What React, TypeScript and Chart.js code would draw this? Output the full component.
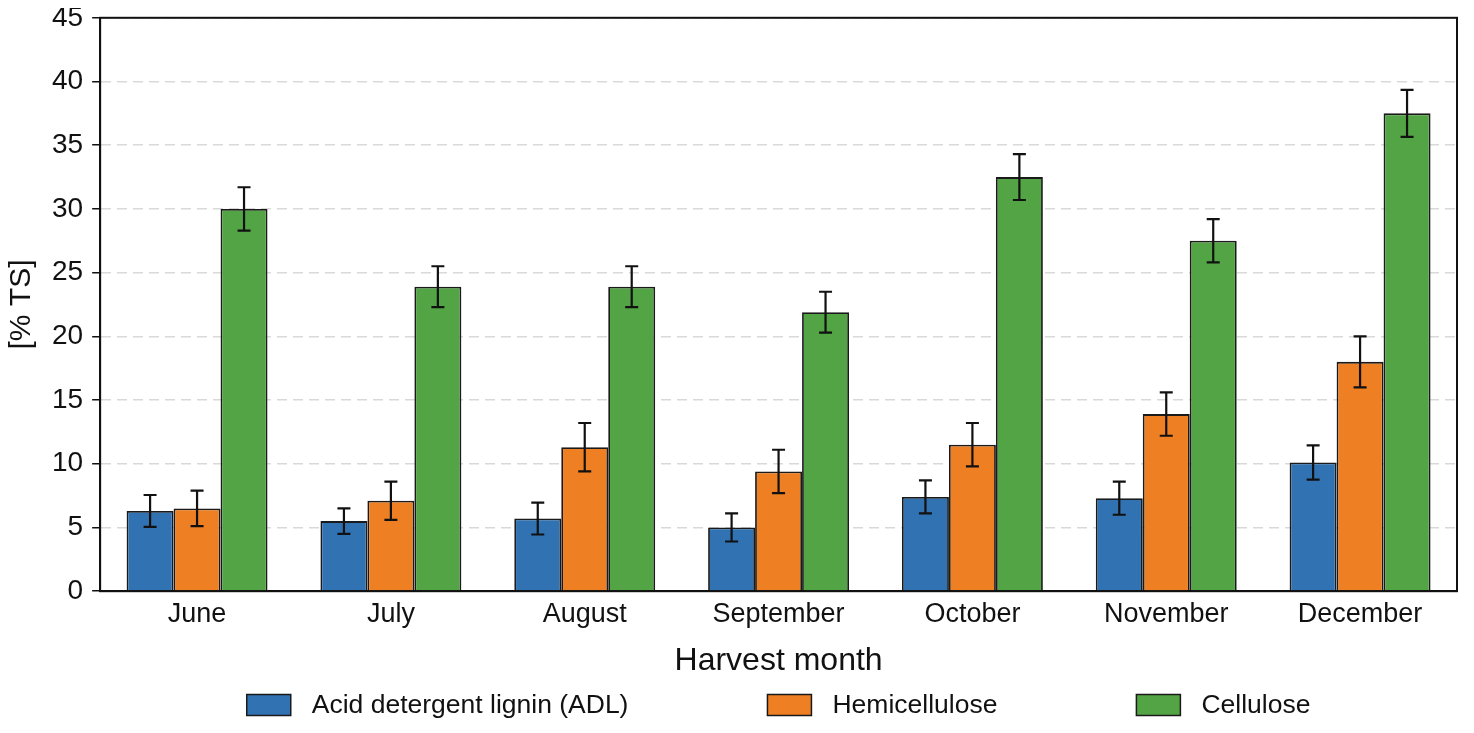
import React, { useEffect, useRef } from "react";
import { Chart, registerables } from "chart.js";

Chart.register(...registerables);

// Harvest months on the category axis
const months = ["June", "July", "August", "September", "October", "November", "December"];

// Mean fibre fractions [% TS]
const adl = [6.3, 5.5, 5.7, 5.0, 7.4, 7.3, 10.1];
const hemicellulose = [6.5, 7.1, 11.3, 9.4, 11.5, 13.9, 18.0];
const cellulose = [30.0, 23.9, 23.9, 21.9, 32.5, 27.5, 37.5];

// Standard deviations
const adlErr = [1.25, 1.0, 1.25, 1.1, 1.3, 1.3, 1.35];
const hemicelluloseErr = [1.4, 1.5, 1.9, 1.7, 1.7, 1.7, 2.0];
const celluloseErr = [1.7, 1.6, 1.6, 1.6, 1.8, 1.7, 1.85];

// Y axis ticks
const yMin = 0;
const yMax = 45;
const yStep = 5;

const FONT = "'Liberation Sans', Arial, Helvetica, sans-serif";
const INK = "#111";

const errorBarPlugin = {
  id: "errorBars",
  afterDatasetsDraw(chart: any) {
    const { ctx } = chart;
    const yScale = chart.scales.y;
    ctx.save();
    ctx.strokeStyle = INK;
    ctx.lineWidth = 2.2;
    chart.data.datasets.forEach((ds: any, di: number) => {
      const meta = chart.getDatasetMeta(di);
      if (meta.hidden) return;
      meta.data.forEach((bar: any, i: number) => {
        const v = ds.data[i];
        const e = ds.errors[i];
        const x = bar.x;
        const yTop = yScale.getPixelForValue(v + e);
        const yBot = yScale.getPixelForValue(v - e);
        const cap = 6.5;
        ctx.beginPath();
        ctx.moveTo(x, yTop);
        ctx.lineTo(x, yBot);
        ctx.moveTo(x - cap, yTop);
        ctx.lineTo(x + cap, yTop);
        ctx.moveTo(x - cap, yBot);
        ctx.lineTo(x + cap, yBot);
        ctx.stroke();
      });
    });
    ctx.restore();
  },
};

// Closes the plot frame on the top and right sides
const frameBorderPlugin = {
  id: "frameBorder",
  afterDraw(chart: any) {
    const { ctx, chartArea } = chart;
    ctx.save();
    ctx.strokeStyle = INK;
    ctx.lineWidth = 2;
    ctx.strokeRect(chartArea.left, chartArea.top, chartArea.right - chartArea.left, chartArea.bottom - chartArea.top);
    ctx.restore();
  },
};

// Single-row legend below the axis title, centred on the plot area
const bottomLegendPlugin = {
  id: "bottomLegend",
  afterDraw(chart: any) {
    const { ctx, chartArea } = chart;
    const boxW = 44;
    const boxH = 21;
    const textGap = 21;
    const itemGap = 139;
    const centerY = chart.height - 28;
    ctx.save();
    ctx.font = `26.5px ${FONT}`;
    ctx.textBaseline = "middle";
    const items = chart.data.datasets.map((ds: any) => ({
      label: ds.label as string,
      color: ds.backgroundColor as string,
      width: boxW + textGap + ctx.measureText(ds.label).width,
    }));
    const total = items.reduce((s: number, it: any) => s + it.width, 0) + itemGap * (items.length - 1);
    let x = (chartArea.left + chartArea.right) / 2 - total / 2;
    items.forEach((it: any) => {
      ctx.fillStyle = it.color;
      ctx.fillRect(x, centerY - boxH / 2, boxW, boxH);
      ctx.strokeStyle = "#1a1a1a";
      ctx.lineWidth = 1.5;
      ctx.strokeRect(x, centerY - boxH / 2, boxW, boxH);
      ctx.fillStyle = INK;
      ctx.fillText(it.label, x + boxW + textGap, centerY + 1);
      x += it.width + itemGap;
    });
    ctx.restore();
  },
};

export default function App() {
  const canvasRef = useRef<HTMLCanvasElement | null>(null);

  useEffect(() => {
    if (!canvasRef.current) return;
    const barBorder = "#1a1a1a";
    const chart = new Chart(canvasRef.current, {
      type: "bar",
      data: {
        labels: months,
        datasets: [
          {
            label: "Acid detergent lignin (ADL)",
            data: adl,
            errors: adlErr,
            backgroundColor: "#3172b2",
            borderColor: barBorder,
            borderWidth: 1.8,
          } as any,
          {
            label: "Hemicellulose",
            data: hemicellulose,
            errors: hemicelluloseErr,
            backgroundColor: "#ee7f22",
            borderColor: barBorder,
            borderWidth: 1.8,
          } as any,
          {
            label: "Cellulose",
            data: cellulose,
            errors: celluloseErr,
            backgroundColor: "#53a444",
            borderColor: barBorder,
            borderWidth: 1.8,
          } as any,
        ],
      },
      options: {
        animation: false,
        responsive: true,
        maintainAspectRatio: false,
        layout: { padding: { top: 9, right: 17, left: 4, bottom: 53 } },
        datasets: {
          bar: { categoryPercentage: 0.727, barPercentage: 1.0 },
        },
        plugins: {
          legend: { display: false },
          tooltip: { enabled: false },
        },
        scales: {
          x: {
            grid: { display: false, drawTicks: false },
            border: { display: true, color: INK, width: 2 },
            ticks: {
              color: INK,
              padding: 7,
              font: { family: FONT, size: 27 },
            },
            title: {
              display: true,
              text: "Harvest month",
              color: INK,
              padding: { top: 4, bottom: 0 },
              font: { family: FONT, size: 32 },
            },
          },
          y: {
            min: yMin,
            max: yMax,
            ticks: {
              stepSize: yStep,
              color: INK,
              padding: 9,
              font: { family: FONT, size: 28 },
            },
            grid: {
              color: "#d9d9d9",
              lineWidth: 1.5,
              tickBorderDash: [],
              tickColor: INK,
              tickWidth: 1.5,
              tickLength: 8,
            },
            border: { display: true, color: INK, width: 2, dash: [10, 6] },
            title: {
              display: true,
              text: "[% TS]",
              color: INK,
              padding: { top: 0, bottom: 3 },
              font: { family: FONT, size: 30 },
            },
          },
        },
      },
      plugins: [errorBarPlugin, frameBorderPlugin, bottomLegendPlugin],
    } as any);
    return () => chart.destroy();
  }, []);

  return (
    <div style={{ width: 1474, height: 741, margin: "-16px -8px -8px -8px", position: "relative" }}>
      <canvas ref={canvasRef} />
    </div>
  );
}
